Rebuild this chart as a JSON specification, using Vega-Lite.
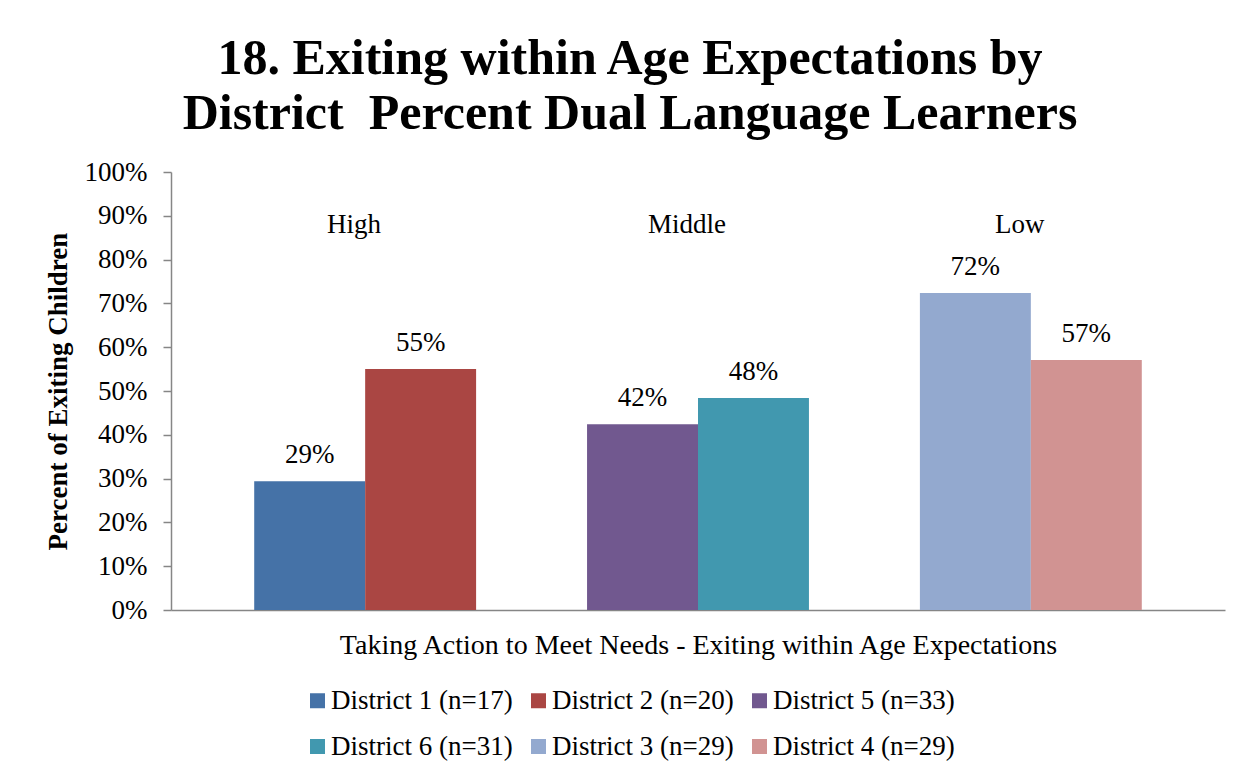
{
  "$schema": "https://vega.github.io/schema/vega-lite/v6.json",
  "width": 1054,
  "height": 438,
  "autosize": {"type": "none"},
  "padding": {"left": 171, "top": 172, "right": 23, "bottom": 169},
  "background": "white",
  "title": {
    "text": ["18. Exiting within Age Expectations by", "District\u00a0 Percent Dual Language Learners"],
    "font": "Liberation Serif",
    "fontWeight": "bold",
    "fontSize": 50,
    "lineHeight": 55,
    "color": "#000000",
    "anchor": "middle",
    "frame": "group",
    "dx": -68,
    "baseline": "alphabetic",
    "offset": -21
  },
  "config": {
    "view": {"stroke": null},
    "font": "Liberation Serif",
    "axis": {
      "labelFont": "Liberation Serif",
      "titleFont": "Liberation Serif",
      "labelColor": "#000000",
      "titleColor": "#000000",
      "domainColor": "#868686",
      "tickColor": "#868686",
      "domainWidth": 1.5,
      "tickWidth": 1.5,
      "grid": false
    },
    "legend": {
      "labelFont": "Liberation Serif",
      "labelColor": "#000000"
    }
  },
  "data": {
    "values": [
      {"district": "District 1", "series": "District 1 (n=17)", "value": 0.294},
      {"district": "District 2", "series": "District 2 (n=20)", "value": 0.55},
      {"district": "District 5", "series": "District 5 (n=33)", "value": 0.424},
      {"district": "District 6", "series": "District 6 (n=31)", "value": 0.484},
      {"district": "District 3", "series": "District 3 (n=29)", "value": 0.724},
      {"district": "District 4", "series": "District 4 (n=29)", "value": 0.571}
    ]
  },
  "layer": [
    {
      "mark": {"type": "bar"},
      "encoding": {
        "x": {
          "field": "district",
          "type": "nominal",
          "sort": null,
          "scale": {
            "domain": ["District 1", "District 2", "gap A", "District 5", "District 6", "gap B", "District 3", "District 4"],
            "paddingInner": 0,
            "paddingOuter": 0.75
          },
          "axis": {
            "title": "Taking Action to Meet Needs - Exiting within Age Expectations",
            "labels": false,
            "ticks": false,
            "titleFontSize": 28,
            "titleFontWeight": "normal",
            "titlePadding": 21
          }
        },
        "y": {
          "field": "value",
          "type": "quantitative",
          "scale": {"domain": [0, 1]},
          "axis": {
            "title": "Percent of Exiting Children",
            "format": ".0%",
            "values": [0, 0.1, 0.2, 0.3, 0.4, 0.5, 0.6, 0.7, 0.8, 0.9, 1],
            "tickSize": 8,
            "labelPadding": 16,
            "labelFontSize": 27,
            "titleFontSize": 27,
            "titleFontWeight": "bold",
            "titlePadding": 12
          }
        },
        "color": {
          "field": "series",
          "type": "nominal",
          "scale": {
            "domain": ["District 1 (n=17)", "District 2 (n=20)", "District 5 (n=33)", "District 6 (n=31)", "District 3 (n=29)", "District 4 (n=29)"],
            "range": ["#4572A7", "#AA4643", "#71588F", "#4198AF", "#93A9CF", "#D19392"]
          },
          "legend": {
            "title": null,
            "orient": "none",
            "legendX": 133,
            "legendY": 515,
            "direction": "horizontal",
            "columns": 3,
            "symbolType": "square",
            "symbolSize": 225,
            "symbolStrokeWidth": 0,
            "labelFontSize": 27,
            "labelOffset": 0,
            "columnPadding": 12,
            "rowPadding": 18,
            "labelLimit": 300
          }
        }
      }
    },
    {
      "mark": {"type": "text", "baseline": "bottom", "dy": -12, "fontSize": 27, "font": "Liberation Serif", "color": "#000000"},
      "encoding": {
        "x": {"field": "district", "type": "nominal", "sort": null},
        "y": {"field": "value", "type": "quantitative"},
        "text": {"field": "value", "type": "quantitative", "format": ".0%"}
      }
    },
    {
      "data": {
        "values": [
          {"group": "High", "district": "District 1"},
          {"group": "Middle", "district": "District 5"},
          {"group": "Low", "district": "District 3"}
        ]
      },
      "mark": {"type": "text", "baseline": "middle", "fontSize": 27, "font": "Liberation Serif", "color": "#000000"},
      "encoding": {
        "x": {"field": "district", "type": "nominal", "sort": null, "bandPosition": 0.9},
        "y": {"datum": 0.88},
        "text": {"field": "group", "type": "nominal"}
      }
    }
  ]
}
